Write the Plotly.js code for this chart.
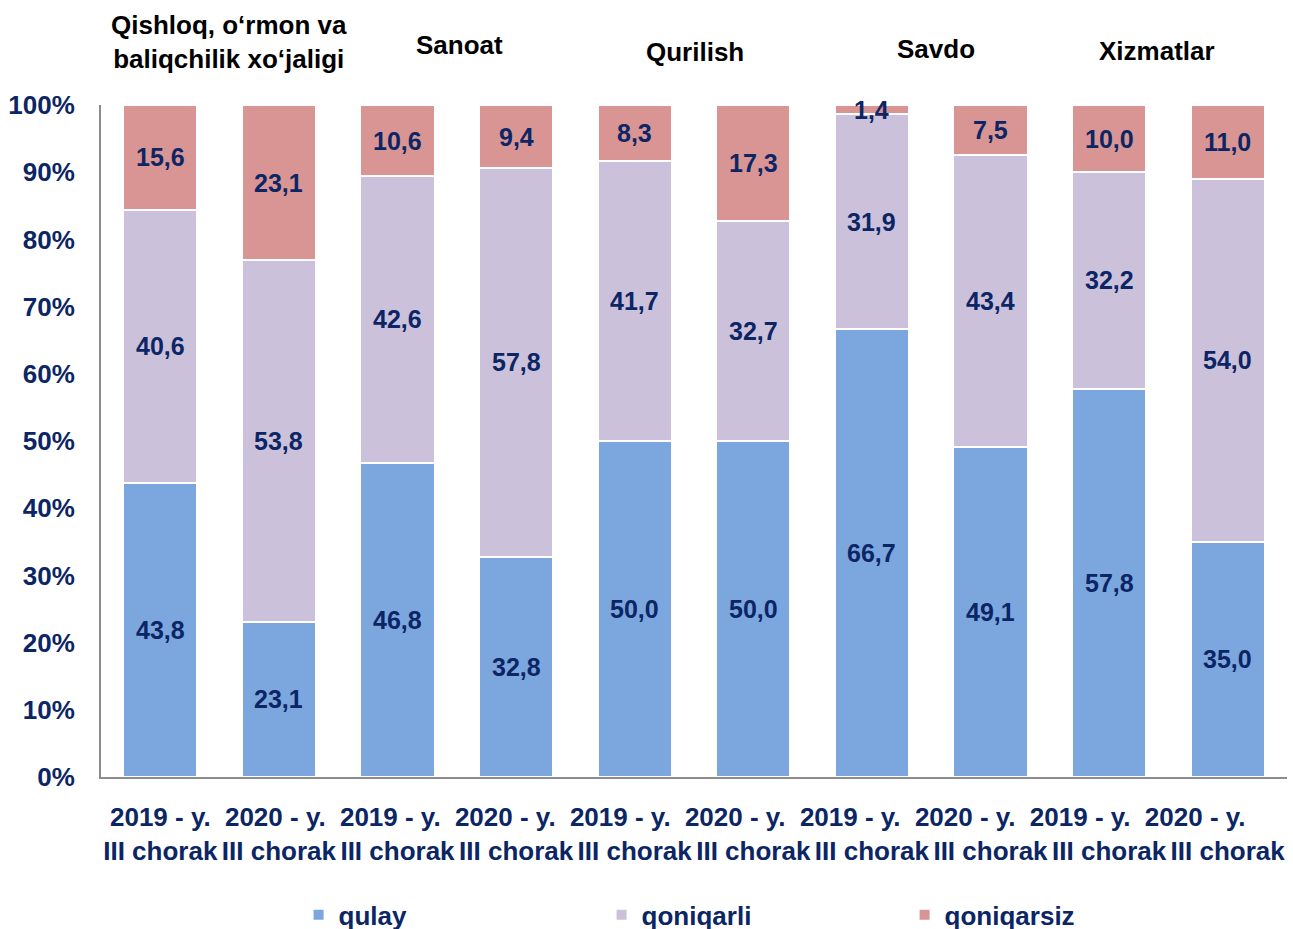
<!DOCTYPE html>
<html>
<head>
<meta charset="utf-8">
<script src="https://cdn.plot.ly/plotly-3.0.1.min.js"></script>
<style>html,body{margin:0;padding:0;background:#fff;}#chart{width:1293px;height:929px;}</style>
</head>
<body>
<div id="chart"></div>
<script>
const categories = [
  "2019 - y.<br>III chorak", "2020 - y. <br>III chorak",
  "2019 - y.  <br>III chorak", "2020 - y.   <br>III chorak",
  "2019 - y.    <br>III chorak", "2020 - y.     <br>III chorak",
  "2019 - y.      <br>III chorak", "2020 - y.       <br>III chorak",
  "2019 - y.        <br>III chorak", "2020 - y.         <br>III chorak"
];
const qulay      = [43.8, 23.1, 46.8, 32.8, 50.0, 50.0, 66.7, 49.1, 57.8, 35.0];
const qoniqarli  = [40.6, 53.8, 42.6, 57.8, 41.7, 32.7, 31.9, 43.4, 32.2, 54.0];
const qoniqarsiz = [15.6, 23.1, 10.6,  9.4,  8.3, 17.3,  1.4,  7.5, 10.0, 11.0];
const seriesNames = ["qulay", "qoniqarli", "qoniqarsiz"];
const groupNames = ["Qishloq, o‘rmon va<br>baliqchilik xo‘jaligi", "Sanoat", "Qurilish", "Savdo", "Xizmatlar"];
const yTickVals = [0,10,20,30,40,50,60,70,80,90,100];
const yTickText = ["0%","10%","20%","30%","40%","50%","60%","70%","80%","90%","100%"];

const colors = ["#7BA7DE", "#CCC1DA", "#D99594"];
const navy = "#0B2565";
const FONT = "Liberation Sans, Arial, sans-serif";
const series = [qulay, qoniqarli, qoniqarsiz];

const traces = series.map((vals, i) => ({
  type: "bar",
  name: seriesNames[i],
  x: categories,
  y: vals,
  marker: {color: colors[i], line: {color: "#FFFFFF", width: 2}},
  hoverinfo: "skip"
}));

const fmt = v => v.toFixed(1).replace(".", ",");
const annotations = [];
categories.forEach((c, j) => {
  let base = 0;
  series.forEach((vals) => {
    const v = vals[j];
    annotations.push({
      x: c, y: base + v / 2, xref: "x", yref: "y",
      text: fmt(v), showarrow: false,
      font: {family: FONT, size: 25, color: navy, weight: "bold"}
    });
    base += v;
  });
});
const groupY = [1.094, 1.089, 1.079, 1.083, 1.080];
const groupX = [0.58, 2.52, 4.51, 6.54, 8.4];
groupNames.forEach((g, k) => {
  annotations.push({
    x: groupX[k], y: groupY[k], xref: "x", yref: "paper",
    text: g, showarrow: false, yanchor: "middle",
    font: {family: FONT, size: 26, color: "#000000", weight: "bold"}
  });
});

const layout = {
  width: 1293, height: 929,
  margin: {l: 101, r: 6, t: 105, b: 152, autoexpand: false},
  barmode: "stack",
  bargap: 0.375,
  paper_bgcolor: "#FFFFFF",
  plot_bgcolor: "#FFFFFF",
  showlegend: true,
  legend: {
    orientation: "h", x: 0.1666, xanchor: "left", y: -0.205, yanchor: "middle",
    font: {family: FONT, size: 26, color: navy, weight: "bold"},
    entrywidth: 258, itemwidth: 30, traceorder: "normal"
  },
  xaxis: {
    type: "category",
    tickangle: 0,
    showline: true, linecolor: "#8C8C8C", linewidth: 2,
    ticks: "outside", ticklen: 16, tickcolor: "rgba(0,0,0,0)",
    tickfont: {family: FONT, size: 26, color: navy, weight: "bold"},
    showgrid: false, zeroline: false, automargin: false
  },
  yaxis: {
    range: [0, 100],
    tickvals: yTickVals, ticktext: yTickText,
    showline: true, linecolor: "#8C8C8C", linewidth: 2,
    ticks: "outside", ticklen: 19, tickcolor: "rgba(0,0,0,0)",
    tickfont: {family: FONT, size: 26, color: navy, weight: "bold"},
    showgrid: false, zeroline: false, automargin: false
  },
  annotations: annotations
};

Plotly.newPlot("chart", traces, layout, {displayModeBar: false, staticPlot: true});
</script>
</body>
</html>
